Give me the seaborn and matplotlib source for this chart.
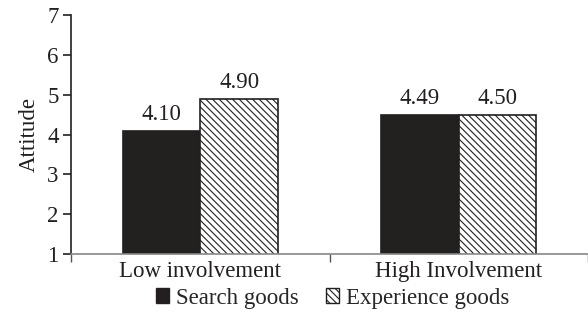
import matplotlib
matplotlib.use("Agg")
import matplotlib.pyplot as plt
import seaborn as sns
import pandas as pd
from matplotlib.patches import Patch

involvement = ["Low involvement", "High Involvement"]
goods = ["Search goods", "Experience goods"]
search_vals = [4.10, 4.49]
experience_vals = [4.90, 4.50]

df = pd.DataFrame({
    "Involvement": involvement * 2,
    "Goods": [goods[0]] * 2 + [goods[1]] * 2,
    "Attitude": search_vals + experience_vals,
})

sns.set_theme(style="white")
plt.rcParams["font.family"] = ["Liberation Serif", "DejaVu Serif"]
plt.rcParams["hatch.linewidth"] = 0.8

dark = "#231f20"
fs = 16.5
hatch = "\\\\\\\\\\"
fig = plt.figure(figsize=(5.88, 3.25), dpi=100)
ax = fig.add_axes([0.121, 0.218, 0.879, 0.736])

sns.barplot(data=df, x="Involvement", y="Attitude", hue="Goods",
            order=involvement, hue_order=goods,
            palette=[dark, "white"], width=0.6, gap=0,
            edgecolor=dark, linewidth=1.2, legend=False, ax=ax)

# hatch the experience-goods bars and print the value above each bar
for cont, h in zip(ax.containers, [None, hatch]):
    for bar in cont:
        if h:
            bar.set_hatch(h)
    ax.bar_label(cont, labels=[f"{v:.2f}" for v in cont.datavalues],
                 padding=4, fontsize=fs, color=dark)

ax.set_ylim(1, 7)
ax.set_yticks(range(1, 8))
ax.set_xlim(-0.5, 1.5)
ax.set_xlabel("")
ax.set_ylabel("Attitude", fontsize=fs, color=dark, labelpad=5)

ax.set_xticks([-0.5, 0.5, 1.5], minor=True)
ax.tick_params(axis="x", which="major", length=0, labelsize=fs,
               colors=dark, pad=5)
ax.tick_params(axis="x", which="minor", length=6, width=1.0,
               color="#555555", direction="out", bottom=True)
ax.tick_params(axis="y", length=6, width=1.2, color=dark, direction="out",
               left=True, labelsize=fs, labelcolor=dark, pad=3)

for s in ["top", "right"]:
    ax.spines[s].set_visible(False)
ax.spines["left"].set_color(dark)
ax.spines["left"].set_linewidth(1.2)
ax.spines["bottom"].set_color("#888888")
ax.spines["bottom"].set_linewidth(1.2)

handles = [Patch(facecolor=dark, edgecolor=dark, label=goods[0]),
           Patch(facecolor="white", edgecolor=dark, hatch=hatch, label=goods[1])]
fig.legend(handles=handles, loc="center", bbox_to_anchor=(0.566, 0.083),
           ncol=2, frameon=False, fontsize=fs, handlelength=0.57,
           handleheight=0.62, handletextpad=0.3, columnspacing=1.2)

fig.savefig("out.png", dpi=100)
